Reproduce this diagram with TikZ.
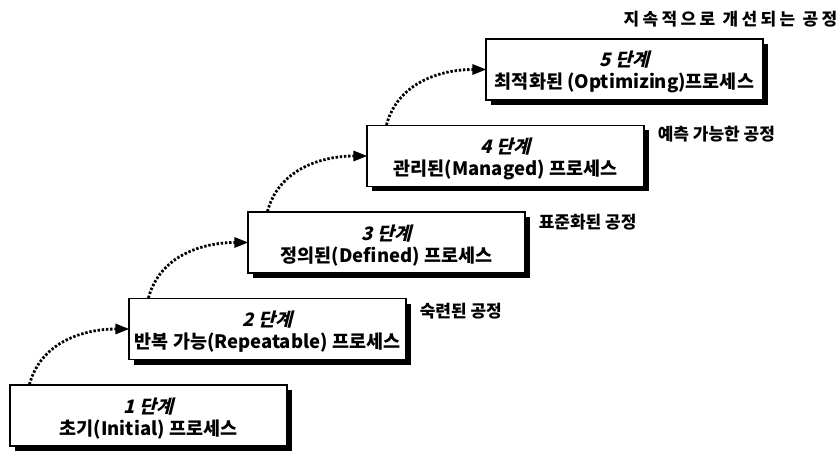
\documentclass[tikz,border=0pt]{standalone}
\usepackage{fontspec}
\setmainfont{Noto Sans CJK KR}
\newfontfamily\slfont[FakeSlant=0.25]{Noto Sans CJK KR}
\newfontfamily\widefont[LetterSpace=20]{Noto Sans CJK KR}
\usetikzlibrary{arrows.meta,shadows}
\tikzset{
  stagebox/.style={draw=black, line width=1.1pt, fill=white,
    minimum width=277pt, minimum height=61pt, inner sep=0pt,
    align=center, font=\fontsize{18.5}{22}\selectfont\bfseries,
    drop shadow={shadow xshift=5pt, shadow yshift=-5pt, fill=black, opacity=1}},
  sidelabel/.style={font=\fontsize{17}{20}\selectfont\bfseries, inner sep=0pt},
  dotarrow/.style={line width=2.8pt, dash pattern=on 2.4pt off 1.8pt,
    -{Triangle[length=14pt,width=10pt]}, shorten >=-1pt}
}
\newcommand{\firstline}[1]{\rule{0pt}{21pt}{\slfont #1}}
\begin{document}
\begin{tikzpicture}[x=1pt,y=1pt]
\useasboundingbox (0,0) rectangle (840,453);
\node[stagebox] (b1) at (148.5,37.5) {\firstline{1 단계}\\초기(Initial) 프로세스};
\node[stagebox] (b2) at (267.5,124) {\firstline{2 단계}\\반복 가능(Repeatable) 프로세스};
\node[stagebox] (b3) at (386.5,210.5) {\firstline{3 단계}\\정의된(Defined) 프로세스};
\node[stagebox] (b4) at (505.5,297) {\firstline{4 단계}\\관리된(Managed) 프로세스};
\node[stagebox] (b5) at (624.5,383.5) {\firstline{5 단계}\\최적화된 (Optimizing)프로세스};
\node[sidelabel, anchor=west] (l2) at ([xshift=13pt,yshift=-13pt]b2.north east) {숙련된 공정};
\node[sidelabel, anchor=west] (l3) at ([xshift=13pt,yshift=-11pt]b3.north east) {표준화된 공정};
\node[sidelabel, anchor=west] (l4) at ([xshift=13pt,yshift=-9pt]b4.north east) {예측 가능한 공정};
\node[sidelabel, anchor=east] (l5) at ([xshift=74pt,yshift=19pt]b5.north east) {\widefont 지속적으로 개선되는 공정};
\foreach \i/\j in {1/2,2/3,3/4,4/5}{
  \coordinate (s\i) at ([xshift=20pt]b\i.north west);
  \draw[dotarrow] (s\i) to[out=75,in=180] (b\j.west);
}
\end{tikzpicture}
\end{document}
